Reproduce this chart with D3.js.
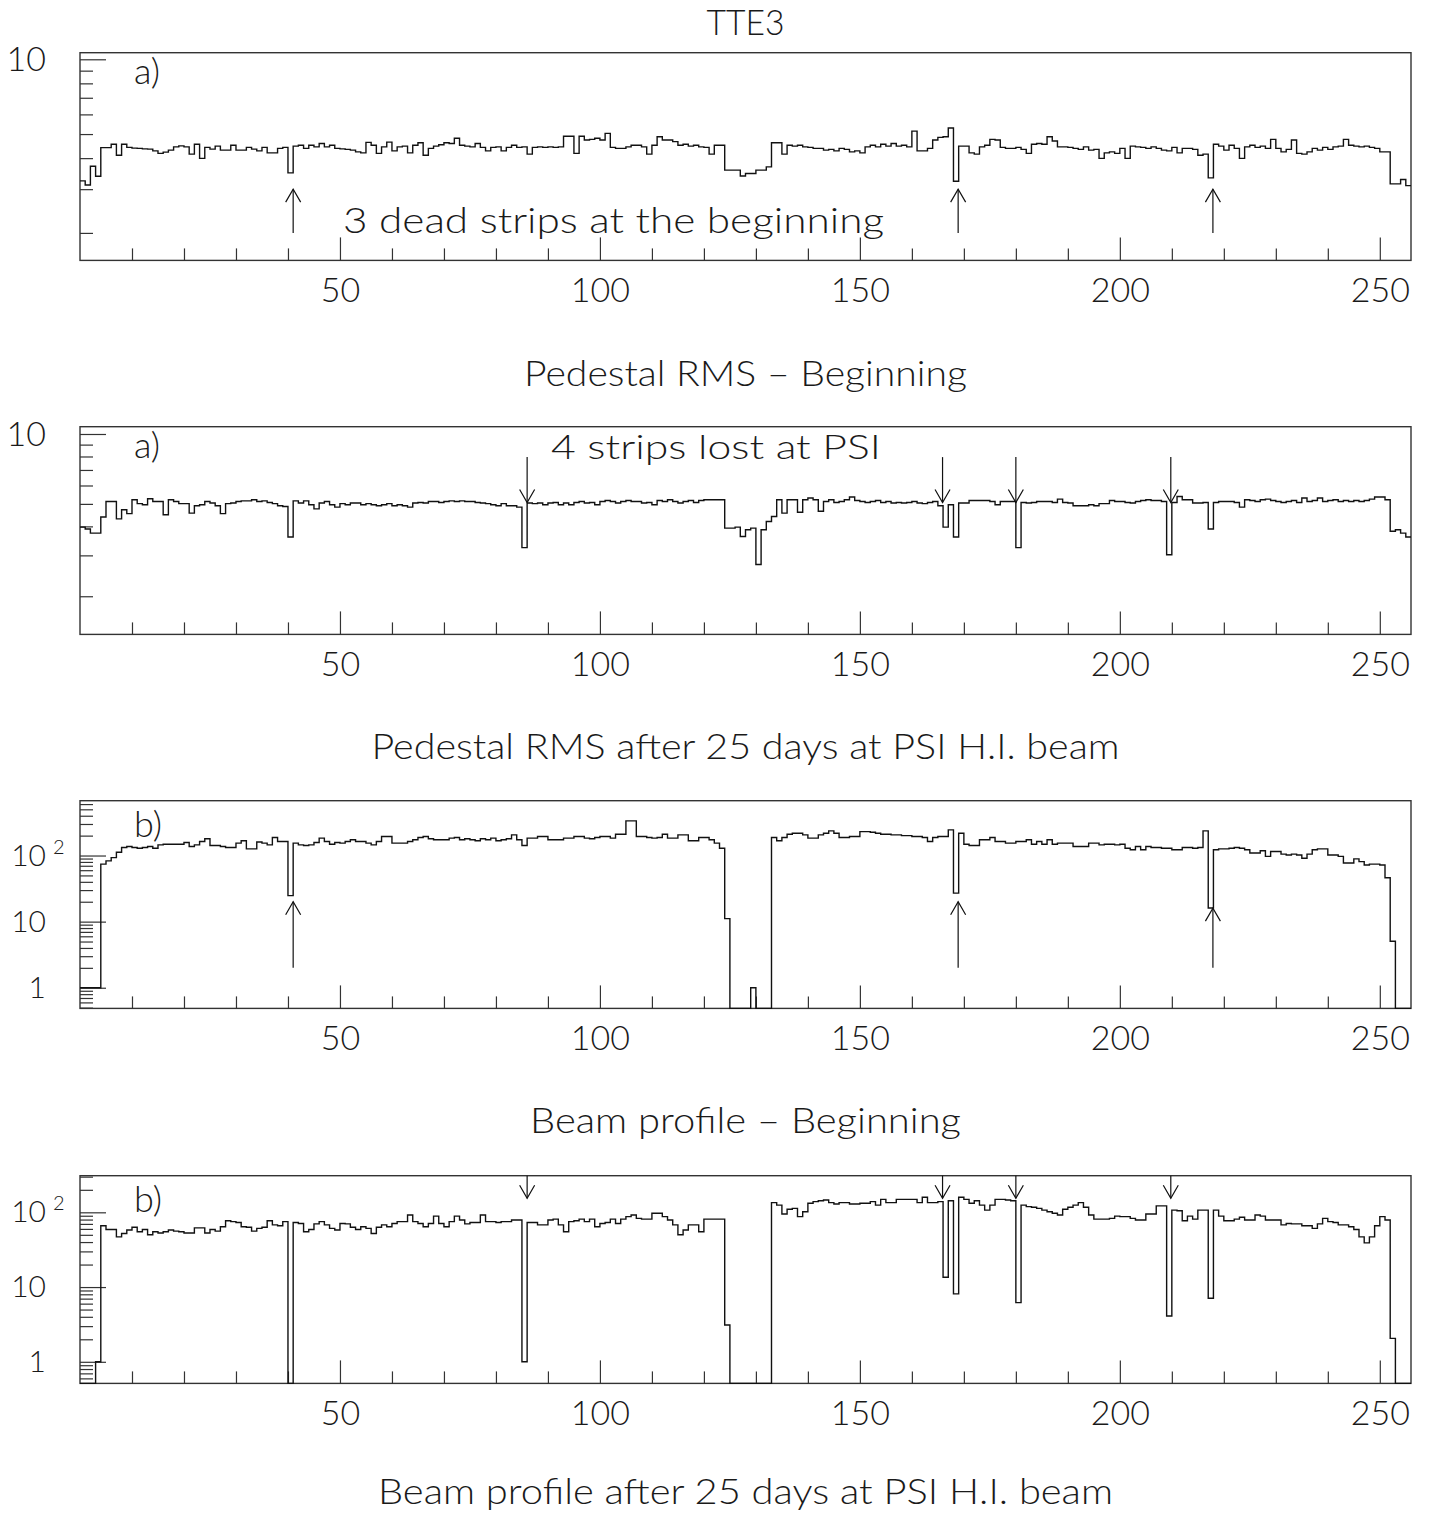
<!DOCTYPE html>
<html lang="en">
<head>
<meta charset="UTF-8">
<title>TTE3</title>
<script src="https://d3js.org/d3.v7.min.js"></script>
<style>
  body { margin: 0; background: #fff; }
  svg text { font-family: "Lato", "DejaVu Sans", sans-serif; font-weight: 300; fill: #1a1a1a; }
  .frame { fill: none; stroke: #333; stroke-width: 1.4; }
  .hist { fill: none; stroke: #111; stroke-width: 1.4; }
  .tick line { stroke: #333; stroke-width: 1.2; }
  .arrow { fill: none; stroke: #111; stroke-width: 1.2; }
</style>
</head>
<body>
<svg id="chart" width="1429" height="1515"></svg>
<script>
// strip number axis (256 strips)
const xTicksMajor = [50, 100, 150, 200, 250];
const xTicksMinor = [10, 20, 30, 40, 60, 70, 80, 90, 110, 120, 130, 140, 160, 170, 180, 190, 210, 220, 230, 240];

// a) pedestal RMS - beginning
const pedestalBegin = [
  3.24,3.12,3.71,3.38,4.41,4.41,4.55,4.11,4.55,4.42,
  4.39,4.38,4.36,4.35,4.28,4.18,4.23,4.31,4.44,4.48,
  4.44,4.15,4.55,3.99,4.42,4.35,4.47,4.31,4.31,4.51,
  4.31,4.31,4.42,4.35,4.28,4.42,4.20,4.20,4.38,4.42,
  3.49,4.47,4.51,4.38,4.51,4.44,4.58,4.44,4.51,4.38,
  4.36,4.34,4.31,4.24,4.20,4.63,4.51,4.18,4.44,4.64,
  4.28,4.44,4.47,4.20,4.51,4.61,4.11,4.38,4.47,4.53,
  4.61,4.58,4.81,4.51,4.47,4.44,4.58,4.42,4.28,4.42,
  4.44,4.28,4.42,4.51,4.42,4.44,4.15,4.42,4.44,4.42,
  4.44,4.42,4.44,4.90,4.90,4.18,4.90,4.73,4.76,4.81,
  4.73,5.03,4.42,4.38,4.38,4.44,4.51,4.51,4.44,4.15,
  4.51,4.88,4.73,4.73,4.66,4.51,4.55,4.47,4.51,4.44,
  4.42,4.15,4.51,4.51,3.58,3.58,3.58,3.39,3.47,3.47,
  3.58,3.58,3.69,4.61,4.61,4.15,4.51,4.47,4.51,4.44,
  4.42,4.38,4.38,4.31,4.34,4.28,4.38,4.34,4.24,4.28,
  4.20,4.44,4.51,4.44,4.55,4.47,4.58,4.47,4.51,4.44,
  5.14,4.28,4.28,4.38,4.73,4.85,4.88,5.29,3.23,4.47,
  4.47,4.20,4.15,4.44,4.51,4.76,4.73,4.42,4.38,4.38,
  4.42,4.34,4.18,4.55,4.58,4.55,4.88,4.69,4.44,4.44,
  4.42,4.38,4.34,4.44,4.31,4.34,3.99,4.20,4.24,4.18,
  4.38,3.99,4.47,4.44,4.42,4.38,4.44,4.38,4.31,4.28,
  4.42,4.20,4.38,4.38,4.34,4.11,4.15,3.33,4.55,4.47,
  4.31,4.51,4.38,3.99,4.44,4.51,4.42,4.47,4.38,4.76,
  4.38,4.24,4.34,4.73,4.18,4.15,4.24,4.38,4.31,4.42,
  4.34,4.44,4.47,4.76,4.51,4.47,4.44,4.47,4.42,4.38,
  4.24,4.24,3.15,3.15,3.28,3.10
];

// a) pedestal RMS - after 25 days at PSI
const pedestalAfter = [
  3.97,3.90,3.74,3.74,4.39,5.12,5.12,4.31,4.72,4.54,
  5.21,5.01,4.96,5.26,5.12,5.12,4.49,5.21,5.12,5.01,
  5.01,4.56,4.91,4.96,5.12,5.04,4.91,4.54,5.01,5.04,
  5.12,5.15,5.15,5.21,5.12,5.15,5.07,5.01,4.91,4.87,
  3.60,5.15,5.04,5.15,4.96,4.76,5.04,5.12,4.96,4.84,
  5.01,4.96,5.04,5.04,4.96,5.01,4.96,4.91,4.96,5.01,
  4.91,4.96,4.91,4.84,5.04,5.07,5.04,5.12,5.12,5.07,
  5.12,5.15,5.12,5.15,5.12,5.12,5.07,5.04,5.01,4.96,
  4.91,5.01,4.91,4.91,4.84,3.24,5.04,5.01,5.04,4.96,
  5.04,5.07,4.96,5.04,4.96,5.07,5.12,5.04,5.07,4.96,
  5.12,5.17,5.12,5.04,5.12,5.17,5.12,5.12,5.04,5.07,
  4.96,5.17,5.12,5.21,5.12,5.04,5.12,5.17,5.07,5.17,
  5.21,5.21,5.21,5.21,3.93,3.93,3.97,3.62,3.87,3.93,
  2.74,3.87,4.20,4.41,5.21,4.56,5.21,5.21,4.60,5.21,
  5.30,5.21,4.65,5.12,5.21,5.07,5.12,5.21,5.35,5.17,
  5.12,5.07,5.12,5.17,5.07,5.12,5.04,5.07,5.04,5.07,
  5.12,5.04,5.01,5.07,5.12,4.91,3.97,4.96,3.60,5.04,
  5.04,5.17,5.17,5.17,5.17,5.12,4.96,5.12,5.12,5.12,
  3.24,5.07,5.04,5.07,5.12,5.12,5.12,5.07,5.24,5.07,
  5.04,4.91,4.91,4.91,4.96,4.91,5.01,5.01,5.17,5.12,
  5.12,5.07,5.04,5.12,5.17,5.21,5.17,5.17,5.12,3.02,
  5.07,5.38,5.21,5.21,5.04,5.04,5.07,3.90,5.07,5.12,
  5.12,5.12,5.07,4.84,5.21,5.17,5.12,5.21,5.24,5.17,
  5.12,5.07,5.12,5.17,5.07,5.30,5.12,5.17,5.30,5.12,
  5.17,5.21,5.12,5.17,5.12,5.17,5.12,5.17,5.24,5.35,
  5.35,5.21,3.81,3.87,3.74,3.60
];

// b) beam profile - beginning (counts)
const beamBegin = [
  1,1,1,1,74,83,93,112,132,137,
  132,129,132,137,129,145,148,148,148,148,
  157,137,145,163,179,142,142,137,132,132,
  154,167,126,126,160,154,145,187,163,163,
  24.7,154,145,142,145,157,183,163,148,157,
  154,163,173,163,163,154,145,163,194,194,
  154,154,154,163,173,187,194,179,173,173,
  173,183,187,173,179,173,167,179,173,183,
  167,173,179,205,173,142,183,183,194,194,
  173,173,173,183,183,194,194,183,179,187,
  194,194,183,210,210,334,334,194,194,187,
  183,187,210,183,183,205,205,167,167,187,
  187,173,154,129,11.1,0,0,0,0,1,
  0,0,0,187,167,187,210,217,217,205,
  183,183,205,217,236,217,187,187,194,194,
  230,230,225,217,210,210,205,205,200,200,
  194,194,187,163,187,194,194,244,27,217,
  148,142,142,173,173,187,163,163,154,154,
  163,163,173,148,163,148,173,148,154,154,
  154,137,137,137,154,154,145,148,148,145,
  148,129,122,137,122,137,132,132,129,129,
  122,122,132,132,129,132,236,16.1,122,126,
  126,129,132,129,122,109,109,118,97,115,
  115,105,102,105,102,91,105,122,126,126,
  102,102,97,77,77,89,81,72,74,74,
  72,46,5.05,0,0,0
];

// b) beam profile - after 25 days at PSI (counts)
const beamAfter = [
  0,0,0,1,66,59,59,47,52,58,
  63,55,59,50,55,53,55,58,56,55,
  53,53,62,62,53,59,56,64,77,75,
  73,64,63,56,61,63,77,68,66,75,
  0,73,71,55,59,70,75,68,61,58,
  71,70,63,59,64,61,52,63,68,64,
  71,75,75,92,75,71,64,71,89,71,
  64,75,89,79,70,73,73,92,75,75,
  73,75,75,79,79,1,73,73,68,68,
  79,81,68,55,75,77,81,75,81,64,
  71,73,81,71,81,87.5,92,83,81,81,
  97,97,87.5,79,68,50,58,68,68,55,
  81,81,81,81,3.1,0,0,0,0,0,
  0,0,0,135,125,95,110,113,87.5,102,
  132,139,143,146,135,129,135,135,129,129,
  132,132,139,125,149,135,135,149,149,149,
  149,135,159,135,135,139,13.5,143,8.1,159,
  149,132,143,125,107,125,149,149,146,143,
  6.2,125,119,117,113,107,102,97,92,110,
  117,125,135,117,92,81,81,81,83,89,
  87.5,87.5,83,79,79,95,95,122,122,4.1,
  107,105,77,89,81,107,107,7.1,107,89,
  77,77,81,86,79,79,92,89,79,79,
  79,68,71,70,70,66,66,61,70,83,
  75,73,68,68,64,59,47,39,47,66,
  87.5,79,2.06,0,0,0
];

// arrows marking dead / lost strips
const deadStripX = [41, 168.9, 217.9];
const deadTipPed = [3, 3, 3];
const deadTipBeam = [20, 20, 16];
const lostStripX = [86, 165.9, 180, 209.8];

const captions = [
  "Pedestal RMS \u2013 Beginning",
  "Pedestal RMS after 25 days at PSI H.I. beam",
  "Beam profile \u2013 Beginning",
  "Beam profile after 25 days at PSI H.I. beam"
];
const captionWidths = [443, 748, 431, 735];

const svg = d3.select("#chart");
const x = d3.scaleLinear().domain([0, 256]).range([80, 1411]);
const panelH = 207.7;

const panels = [
  { values: pedestalBegin, top: 52.7, domain: [1.55, 10.63], tag: "a)", decade: false, capDy: 126,
    arrows: deadStripX.map((v, i) => ({ x: v, from: 2, to: deadTipPed[i] })) },
  { values: pedestalAfter, top: 426.7, domain: [1.37, 10.75], tag: "a)", decade: false, capDy: 125,
    arrows: lostStripX.map(v => ({ x: v, from: 7.95, to: 5.07 })) },
  { values: beamBegin, top: 800.7, domain: [0.487, 675], tag: "b)", decade: true, capDy: 125,
    arrows: deadStripX.map((v, i) => ({ x: v, from: 2, to: deadTipBeam[i] })) },
  { values: beamAfter, top: 1175.7, domain: [0.514, 309], tag: "b)", decade: true, capDy: 121,
    arrows: lostStripX.map(v => ({ x: v, from: 500, to: 154 })) }
];

panels.forEach((p, k) => {
  const bottom = p.top + panelH;
  const y = d3.scaleLog().domain(p.domain).range([bottom, p.top]).clamp(true);
  const g = svg.append("g");

  // frame
  g.append("rect").attr("class", "frame")
    .attr("x", x(0)).attr("y", p.top)
    .attr("width", x(256) - x(0)).attr("height", panelH);

  // x ticks (inside, pointing up)
  g.append("g").attr("class", "tick")
    .attr("transform", `translate(0,${bottom})`)
    .call(d3.axisBottom(x).tickValues(xTicksMinor).tickSize(-12).tickFormat(""))
    .call(a => a.select(".domain").remove());
  const xa = g.append("g").attr("class", "tick")
    .attr("transform", `translate(0,${bottom})`)
    .call(d3.axisBottom(x).tickValues(xTicksMajor).tickSize(-23))
    .call(a => a.select(".domain").remove());
  xa.selectAll("text").attr("y", 42).attr("dy", null)
    .attr("font-size", 34).attr("fill", "#1a1a1a");

  // y ticks (log)
  let major, minor;
  if (p.decade) {
    major = [1, 10, 100];
    minor = [0.5, 0.6, 0.7, 0.8, 0.9, 2, 3, 4, 5, 6, 7, 8, 9,
             20, 30, 40, 50, 60, 70, 80, 90, 200, 300, 400, 500, 600];
  } else {
    major = [10];
    minor = [2, 3, 4, 5, 6, 7, 8, 9];
  }
  const inDom = v => v >= p.domain[0] && v <= p.domain[1];
  g.append("g").attr("class", "tick")
    .attr("transform", `translate(${x(0)},0)`)
    .call(d3.axisLeft(y).tickValues(minor.filter(inDom)).tickSize(-13).tickFormat(""))
    .call(a => a.select(".domain").remove());
  g.append("g").attr("class", "tick")
    .attr("transform", `translate(${x(0)},0)`)
    .call(d3.axisLeft(y).tickValues(major.filter(inDom)).tickSize(-26).tickFormat(""))
    .call(a => a.select(".domain").remove());

  // y labels
  if (p.decade) {
    [[1, "1"], [10, "10"], [100, "10"]].forEach(([v, t]) => {
      g.append("text").attr("x", 46).attr("y", y(v) + 10)
        .attr("text-anchor", "end").attr("font-size", 30).text(t);
    });
    g.append("text").attr("x", 53).attr("y", y(100) - 2)
      .attr("font-size", 20).text("2");
  } else {
    g.append("text").attr("x", 46).attr("y", y(10) + 12)
      .attr("text-anchor", "end").attr("font-size", 34).text("10");
  }

  // histogram outline
  const pts = p.values.map((v, i) => [x(i), v > 0 ? y(v) : bottom]);
  pts.push([x(256), pts[pts.length - 1][1]]);
  g.append("path").attr("class", "hist")
    .attr("d", d3.line().curve(d3.curveStepAfter)(pts));

  // arrows
  p.arrows.forEach(a => {
    const xa = x(a.x), y0 = y(a.from), y1 = y(a.to);
    const dir = y1 < y0 ? 1 : -1;
    g.append("line").attr("class", "arrow")
      .attr("x1", xa).attr("x2", xa).attr("y1", y0).attr("y2", y1);
    g.append("polyline").attr("class", "arrow")
      .attr("points", [[xa - 7.5, y1 + dir * 13], [xa, y1], [xa + 7.5, y1 + dir * 13]].join(" "));
  });

  // panel tag
  g.append("text").attr("x", 134).attr("y", p.top + (p.decade ? 36 : 31))
    .attr("font-size", 36).text(p.tag);

  // caption under panel
  g.append("text").attr("x", 745.5).attr("y", bottom + p.capDy)
    .attr("text-anchor", "middle").attr("font-size", 36)
    .attr("textLength", captionWidths[k]).attr("lengthAdjust", "spacingAndGlyphs")
    .text(captions[k]);
});

// top title and annotations
svg.append("text").attr("x", 745.5).attr("y", 35).attr("text-anchor", "middle")
  .attr("font-size", 36).attr("textLength", 78).attr("lengthAdjust", "spacingAndGlyphs")
  .text("TTE3");
svg.append("text").attr("x", 343).attr("y", 233)
  .attr("font-size", 36).attr("textLength", 541).attr("lengthAdjust", "spacingAndGlyphs")
  .text("3 dead strips at the beginning");
svg.append("text").attr("x", 551).attr("y", 459)
  .attr("font-size", 34).attr("textLength", 330).attr("lengthAdjust", "spacingAndGlyphs")
  .text("4 strips lost at PSI");
</script>
</body>
</html>
